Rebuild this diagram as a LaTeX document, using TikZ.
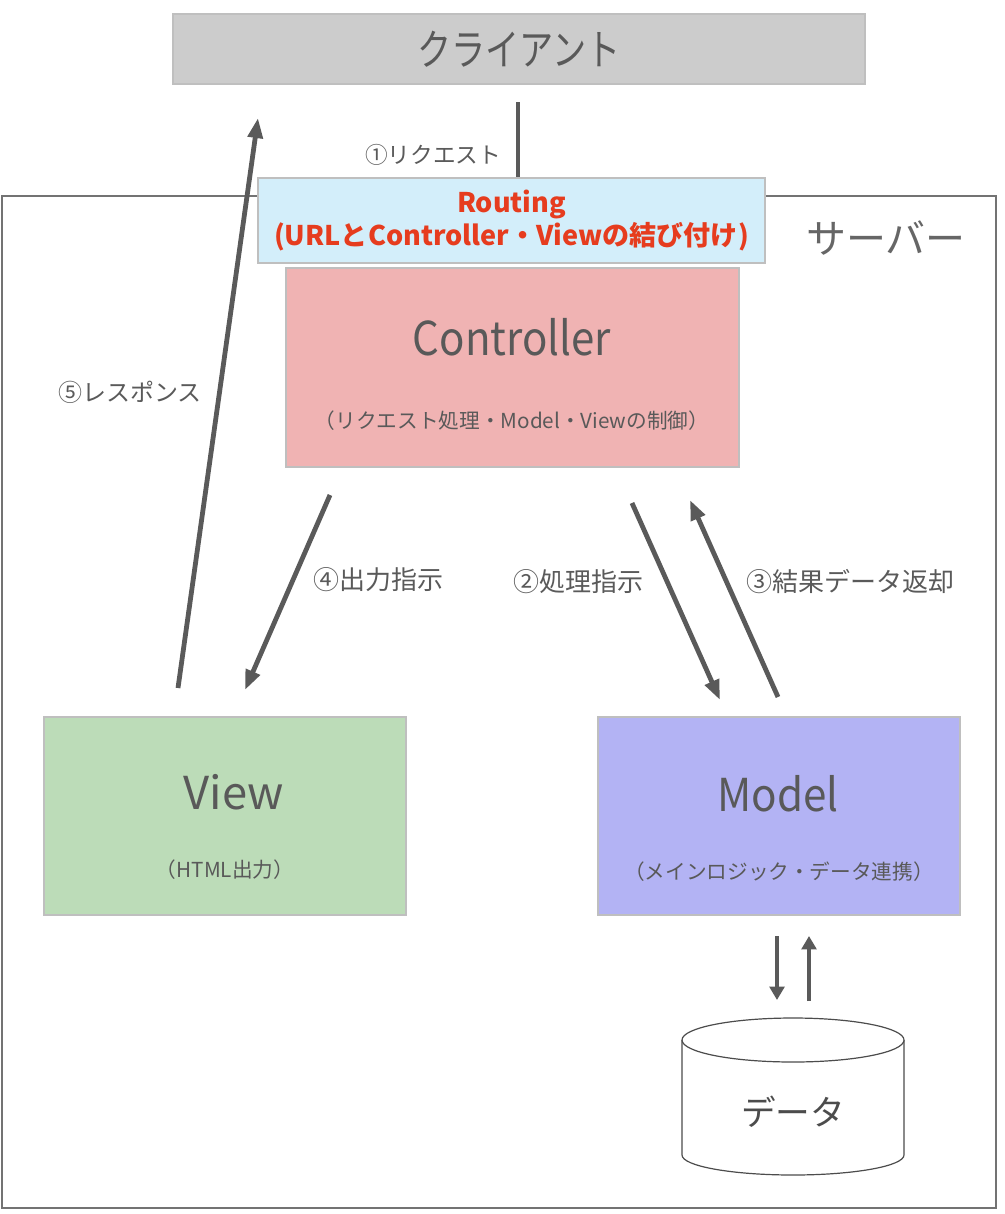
\documentclass[tikz,border=0pt]{standalone}
\usepackage{fontspec}
\setmainfont{Noto Sans CJK JP}
\usetikzlibrary{arrows.meta}
\definecolor{clientgray}{HTML}{CCCCCC}
\definecolor{routeblue}{HTML}{D3EEFA}
\definecolor{ctrlred}{HTML}{F0B3B3}
\definecolor{viewgreen}{HTML}{BCDCB8}
\definecolor{modelblue}{HTML}{B3B3F4}
\definecolor{inkgray}{HTML}{5A5A5A}
\definecolor{routered}{HTML}{E63C1E}
\tikzset{
    box/.style={draw=black!25, line width=0.8pt, inner sep=0pt},
    flow/.style={draw=inkgray, line width=3.6pt, -{Triangle[length=15pt, width=11pt]}},
    label/.style={text=inkgray, font=\fontsize{19.5}{21}\selectfont}
}
\begin{document}
\begin{tikzpicture}[x=0.75pt, y=-0.75pt]
    \useasboundingbox (0,0) rectangle (1004,1214);

    % server frame
    \draw[draw=black!55, line width=1pt] (2,196) rectangle (996,1208);
    \node[text=black!60, font=\fontsize{30}{32}\selectfont] (server) at (886,238) {サーバー};

    % client
    \node[box, fill=clientgray, minimum width=692*0.75pt, minimum height=70*0.75pt,
          text=black!65, font=\fontsize{32}{34}\selectfont] (client) at (519,49) {\scalebox{0.8}[1]{クライアント}};

    % routing
    \node[box, fill=routeblue, minimum width=507*0.75pt, minimum height=85*0.75pt,
          text=routered, align=center, font=\bfseries\fontsize{20.3}{25}\selectfont] (routing) at (511.5,220.5)
          {Routing\\(URLとController・Viewの結び付け)};

    % controller, view, model
    \node[box, fill=ctrlred, minimum width=453*0.75pt, minimum height=199*0.75pt] (ctrl) at (512.5,367.5) {};
    \node[text=black!65, font=\fontsize{35}{37}\selectfont] (ctrltitle) at (512,337) {\scalebox{0.9}[1]{Controller}};
    \node[text=black!65, font=\fontsize{15.5}{17}\selectfont] (ctrlsub) at (512,421) {（リクエスト処理・Model・Viewの制御）};

    \node[box, fill=viewgreen, minimum width=362*0.75pt, minimum height=198*0.75pt] (view) at (225,816) {};
    \node[text=black!65, font=\fontsize{34}{36}\selectfont] (viewtitle) at (234,792) {View};
    \node[text=black!65, font=\fontsize{15.5}{17}\selectfont] (viewsub) at (225,870) {（HTML出力）};

    \node[box, fill=modelblue, minimum width=362*0.75pt, minimum height=198*0.75pt] (model) at (779,816) {};
    \node[text=black!65, font=\fontsize{34}{36}\selectfont] (modeltitle) at (778,794) {\scalebox{0.93}[1]{Model}};
    \node[text=black!65, font=\fontsize{15.5}{17}\selectfont] (modelsub) at (779,872) {（メインロジック・データ連携）};

    % data store
    \draw[draw=black!70, line width=0.9pt, fill=white] (682,1040) -- (682,1155)
        arc[start angle=180, end angle=0, x radius=111, y radius=20] -- (904,1040);
    \draw[draw=black!70, line width=0.9pt, fill=white] (793,1040) ellipse[x radius=111, y radius=22];
    \node[text=black!70, font=\fontsize{26}{28}\selectfont] (data) at (793,1112) {データ};

    % arrow ends
    \coordinate (reqtop) at (518,102);
    \coordinate (resfoot) at (178,688);
    \coordinate (restip) at (258,118);
    \coordinate (outfoot) at (330,495);
    \coordinate (outtip) at (245,690);
    \coordinate (dofoot) at (632,503);
    \coordinate (dotip) at (720,700);
    \coordinate (retfoot) at (778,697);
    \coordinate (rettip) at (690,500);
    \coordinate (dbdownfoot) at (777,936);
    \coordinate (dbdowntip) at (777,1000);
    \coordinate (dbupfoot) at (809,1001);
    \coordinate (dbuptip) at (809,936);

    % flows
    \draw[draw=inkgray, line width=3.6pt] (reqtop) -- (routing.north -| reqtop);
    \draw[flow] (resfoot) -- (restip);
    \draw[flow] (outfoot) -- (outtip);
    \draw[flow] (dofoot) -- (dotip);
    \draw[flow] (retfoot) -- (rettip);
    \draw[flow, line width=3pt, -{Triangle[length=10pt, width=11pt]}] (dbdownfoot) -- (dbdowntip);
    \draw[flow, line width=3pt, -{Triangle[length=10pt, width=11pt]}] (dbupfoot) -- (dbuptip);

    % flow labels
    \node[label, anchor=east, font=\fontsize{17}{19}\selectfont] (reqlabel) at (506,155) {①リクエスト};
    \node[label, font=\fontsize{18}{20}\selectfont] (reslabel) at (130,392) {⑤レスポンス};
    \node[label] (outlabel) at (378,580) {④出力指示};
    \node[label] (dolabel) at (578,582) {②処理指示};
    \node[label] (retlabel) at (850,582) {③結果データ返却};
\end{tikzpicture}
\end{document}
